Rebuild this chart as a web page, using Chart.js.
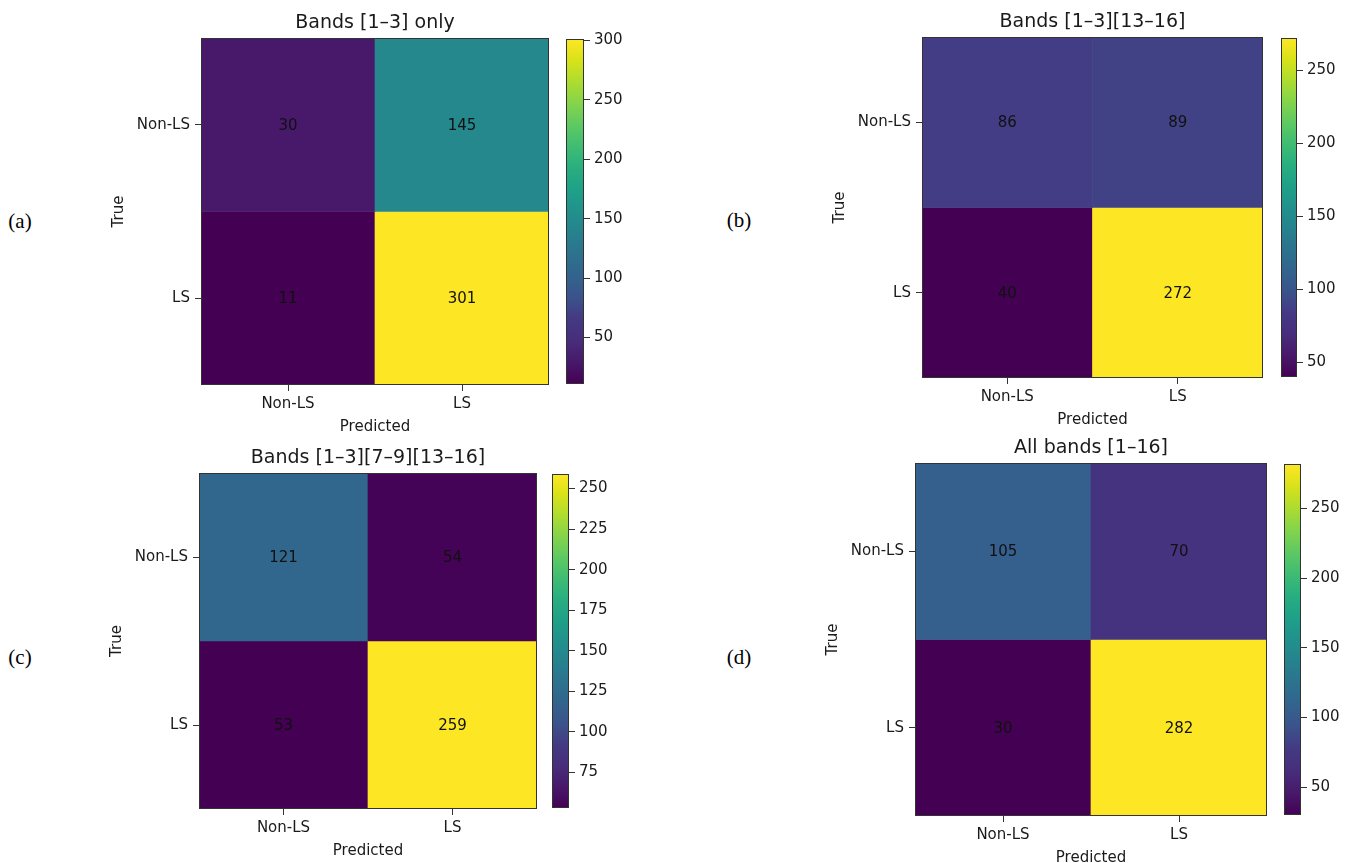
<!DOCTYPE html>
<html><head><meta charset="utf-8">
<script src="https://cdn.jsdelivr.net/npm/chart.js@4.4.0/dist/chart.umd.min.js"></script>
<style>
html,body{margin:0;padding:0;background:#fff;}
body{width:1352px;height:863px;position:relative;overflow:hidden;}
canvas{position:absolute;}
.plabel{position:absolute;font-family:"Liberation Serif","Times New Roman",serif;font-size:21px;line-height:1;color:#000;transform:translate(-50%,-50%);white-space:nowrap;}
</style></head><body>
<script>
// ---- data ----
const categories = ['Non-LS', 'LS'];
const titles = ['Bands [1–3] only', 'Bands [1–3][13–16]', 'Bands [1–3][7–9][13–16]', 'All bands [1–16]'];
const panelLabels = ['(a)', '(b)', '(c)', '(d)'];
const cmA = [[30, 145], [11, 301]];
const cmB = [[86, 89], [40, 272]];
const cmC = [[121, 54], [53, 259]];
const cmD = [[105, 70], [30, 282]];
const cbTicksA = [50, 100, 150, 200, 250, 300];
const cbTicksB = [50, 100, 150, 200, 250];
const cbTicksC = [75, 100, 125, 150, 175, 200, 225, 250];
const cbTicksD = [50, 100, 150, 200, 250];
const xTitle = 'Predicted';
const yTitle = 'True';

// ---- layout (pixel boxes of each panel) ----
const layouts = [
  {hm:{L:201,T:38,R:549,B:385},  cb:{L:566,R:584},  lab:{x:20,y:221}},
  {hm:{L:922,T:37,R:1263,B:378}, cb:{L:1281,R:1297}, lab:{x:739,y:220}},
  {hm:{L:199,T:473,R:537,B:809}, cb:{L:552,R:569},  lab:{x:20,y:657}},
  {hm:{L:915,T:463,R:1267,B:816},cb:{L:1284,R:1301}, lab:{x:739,y:657}}
];
const matrices = [cmA, cmB, cmC, cmD];
const cbTicks = [cbTicksA, cbTicksB, cbTicksC, cbTicksD];

// ---- style ----
const FAMILY = "'DejaVu Sans', sans-serif";
const TXT = '#1a1a1a';
const LINE = '#333333';
const VIRIDIS = ['#440154','#48186a','#472d7b','#443983','#3b528b','#33638d','#2c728e','#26828e',
  '#21918c','#1fa088','#28ae80','#3fbc73','#5ec962','#84d44b','#addc30','#d8e219','#fde725'];

function hex(c){return [parseInt(c.slice(1,3),16),parseInt(c.slice(3,5),16),parseInt(c.slice(5,7),16)];}
function viridis(t){
  t = Math.max(0, Math.min(1, t));
  const n = VIRIDIS.length - 1;
  const i = Math.min(n - 1, Math.floor(t * n));
  const f = t * n - i;
  const a = hex(VIRIDIS[i]), b = hex(VIRIDIS[i+1]);
  const c = a.map((v,k)=>Math.round(v + (b[k]-v)*f));
  return 'rgb(' + c.join(',') + ')';
}
function makeCanvas(left, top, w, h){
  const cv = document.createElement('canvas');
  cv.width = w; cv.height = h;
  cv.style.left = left + 'px'; cv.style.top = top + 'px';
  cv.style.width = w + 'px'; cv.style.height = h + 'px';
  document.body.appendChild(cv);
  return cv;
}
const framePlugin = {
  id: 'frame',
  afterDatasetsDraw(chart){
    const a = chart.chartArea, ctx = chart.ctx;
    ctx.save(); ctx.strokeStyle = LINE; ctx.lineWidth = 1;
    ctx.strokeRect(Math.round(a.left) + 0.5, Math.round(a.top) + 0.5,
      Math.round(a.right - a.left) - 1, Math.round(a.bottom - a.top) - 1);
    ctx.restore();
  }
};
function cellTextPlugin(cm){
  return {
    id: 'cellText',
    afterDatasetsDraw(chart){
      const ctx = chart.ctx;
      ctx.save();
      ctx.font = '15px ' + FAMILY; ctx.fillStyle = '#111';
      ctx.textAlign = 'center'; ctx.textBaseline = 'middle';
      chart.data.datasets.forEach((ds, i) => {
        chart.getDatasetMeta(i).data.forEach((bar, j) => {
          const p = bar.getProps(['x','y','base'], true);
          ctx.fillText(String(cm[i][j]), p.x, (p.y + p.base) / 2 + 1);
        });
      });
      ctx.restore();
    }
  };
}

function heatChart(k){
  const hm = layouts[k].hm, cm = matrices[k];
  const flat = cm.flat();
  const vmin = Math.min(...flat), vmax = Math.max(...flat);
  const YW = 91, TH = 28, XH = 52;
  const w = YW + (hm.R - hm.L) + YW;
  const h = TH + (hm.B - hm.T) + XH;
  const cv = makeCanvas(hm.L - YW, hm.T - TH, w, h);
  const font = {family: FAMILY, size: 15};
  new Chart(cv, {
    type: 'bar',
    data: {
      labels: categories,
      datasets: cm.map((row, i) => ({
        label: categories[i],
        data: row.map(() => 1),
        backgroundColor: row.map(v => viridis((v - vmin) / (vmax - vmin))),
        borderWidth: 0, barPercentage: 1, categoryPercentage: 1
      }))
    },
    options: {
      responsive: false, animation: false, events: [],
      layout: {padding: 0},
      plugins: {
        legend: {display: false}, tooltip: {enabled: false},
        title: {display: true, text: titles[k], color: TXT,
          font: {family: FAMILY, size: 19, weight: 'normal', lineHeight: 1.2},
          padding: {top: 1.6, bottom: 3.6}}
      },
      scales: {
        x: {
          stacked: true, offset: true,
          grid: {offset: false, drawOnChartArea: false, drawTicks: true, tickLength: 6, color: LINE},
          border: {display: false},
          ticks: {font, color: TXT, padding: 4.5, maxRotation: 0},
          title: {display: true, text: xTitle, font, color: TXT, padding: {top: 0, bottom: 1}},
          afterFit: s => { s.height = XH; }
        },
        y: {
          type: 'linear', stacked: true, min: 0, max: 2, reverse: true,
          afterBuildTicks: s => { s.ticks = [{value: 0.5}, {value: 1.5}]; },
          ticks: {font, color: TXT, padding: 5, callback: (v, i) => categories[i]},
          grid: {drawOnChartArea: false, drawTicks: true, tickLength: 6, color: LINE},
          border: {display: false},
          title: {display: true, text: yTitle, font, color: TXT, padding: {top: 0, bottom: 0}},
          afterFit: s => { s.width = YW; }
        },
        spacer: {
          type: 'linear', position: 'right', display: true,
          grid: {display: false}, border: {display: false}, ticks: {display: false},
          afterFit: s => { s.width = YW; }
        }
      }
    },
    plugins: [framePlugin, cellTextPlugin(cm)]
  });
}

function colorbarChart(k){
  const hm = layouts[k].hm, cb = layouts[k].cb, cm = matrices[k];
  const flat = cm.flat();
  const vmin = Math.min(...flat), vmax = Math.max(...flat);
  const PL = 2, PT = 12, PB = 12, AW = 50;
  const cv = makeCanvas(cb.L - PL, hm.T - PT, PL + (cb.R - cb.L) + AW, PT + (hm.B - hm.T) + PB);
  new Chart(cv, {
    type: 'bar',
    data: {labels: [''], datasets: [{
      data: [[vmin, vmax]],
      backgroundColor: ctx => {
        const a = ctx.chart.chartArea;
        if (!a) return VIRIDIS[8];
        const g = ctx.chart.ctx.createLinearGradient(0, a.bottom, 0, a.top);
        VIRIDIS.forEach((c, i) => g.addColorStop(i / (VIRIDIS.length - 1), c));
        return g;
      },
      borderWidth: 0, barPercentage: 1, categoryPercentage: 1
    }]},
    options: {
      responsive: false, animation: false, events: [],
      layout: {padding: {left: PL, top: PT, bottom: PB, right: 0}},
      plugins: {legend: {display: false}, tooltip: {enabled: false}},
      scales: {
        x: {display: false},
        y: {
          position: 'right', min: vmin, max: vmax,
          afterBuildTicks: s => { s.ticks = cbTicks[k].map(v => ({value: v})); },
          ticks: {font: {family: FAMILY, size: 15}, color: TXT, padding: 4},
          grid: {drawOnChartArea: false, drawTicks: true, tickLength: 6, color: LINE},
          border: {display: false},
          afterFit: s => { s.width = AW; }
        }
      }
    },
    plugins: [framePlugin]
  });
}

for (let k = 0; k < 4; k++) {
  heatChart(k);
  colorbarChart(k);
  const d = document.createElement('div');
  d.className = 'plabel';
  d.textContent = panelLabels[k];
  d.style.left = layouts[k].lab.x + 'px';
  d.style.top = layouts[k].lab.y + 'px';
  document.body.appendChild(d);
}
</script>
</body></html>
